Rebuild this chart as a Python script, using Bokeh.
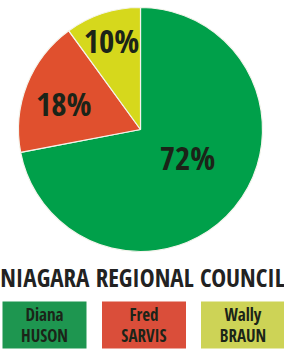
from math import pi, cos, sin, radians
from bokeh.plotting import figure
from bokeh.models import ColumnDataSource, Range1d
from bokeh.core.properties import value
from bokeh.embed import file_html
from bokeh.resources import INLINE

# ---- data ----
first_names = ["Diana", "Fred", "Wally"]
last_names = ["HUSON", "SARVIS", "BRAUN"]
shares = [72, 18, 10]
labels = ["72%", "18%", "10%"]
slice_colors = ["#00A04A", "#E0502E", "#D6D81C"]
box_colors = ["#1E9650", "#DA4E3A", "#CDD356"]
title = "NIAGARA REGIONAL COUNCIL"

W, H = 284, 350
FONT = "Open Sans Condensed"
TXT = "#1B2418"

p = figure(width=W, height=H, output_backend="svg", toolbar_location=None,
           x_range=Range1d(0, W), y_range=Range1d(0, H), min_border=0)
p.axis.visible = False
p.grid.visible = False
p.outline_line_color = None
p.background_fill_color = "white"
p.border_fill_color = "white"

cx, cy, R = 140, 350 - 129, 122
total = sum(shares)
starts, ends = [0.0] * 3, [0.0] * 3
a = pi / 2
for i in [2, 1, 0]:
    span = 2 * pi * shares[i] / total
    starts[i] = a
    ends[i] = a + span
    a += span
# label placement (layout constants)
lab_frac = [0.45, 0.665, 0.77]
lab_ang_off = [radians(8.4), radians(2.6), 0.0]
mid = [(starts[i] + ends[i]) / 2 + lab_ang_off[i] for i in range(3)]
lx = [cx + lab_frac[i] * R * cos(mid[i]) for i in range(3)]
ly = [cy + lab_frac[i] * R * sin(mid[i]) for i in range(3)]

src = ColumnDataSource(dict(start=starts, end=ends, color=slice_colors,
                            label=labels, lx=lx, ly=ly))
p.wedge(x=cx, y=cy, radius=R, start_angle="start", end_angle="end",
        fill_color="color", line_color="#F4F4EC", line_width=1.2, source=src)
p.text(x="lx", y="ly", text="label", source=src, text_align="center",
       text_baseline="middle", text_font=value(FONT), text_font_style="bold",
       text_font_size="33px", text_color=TXT)

p.text(x=[W / 2], y=[H - 276], text=[title], text_align="center",
       text_baseline="middle", text_font=value(FONT), text_font_style="bold",
       text_font_size="25px", text_color="#222222")

bx = [44, 143.5, 242.5]
bsrc = ColumnDataSource(dict(x=bx, color=box_colors, first=first_names, last=last_names))
p.rect(x="x", y=H - 324.5, width=84, height=47, fill_color="color",
       line_color=None, source=bsrc)
p.text(x="x", y=H - 314, text="first", source=bsrc, text_align="center",
       text_baseline="middle", text_font=value(FONT), text_font_style="bold",
       text_font_size="17px", text_color=TXT)
p.text(x="x", y=H - 335, text="last", source=bsrc, text_align="center",
       text_baseline="middle", text_font=value(FONT), text_font_style="bold",
       text_font_size="17px", text_color=TXT)

open("out.html", "w").write(file_html(p, INLINE))
